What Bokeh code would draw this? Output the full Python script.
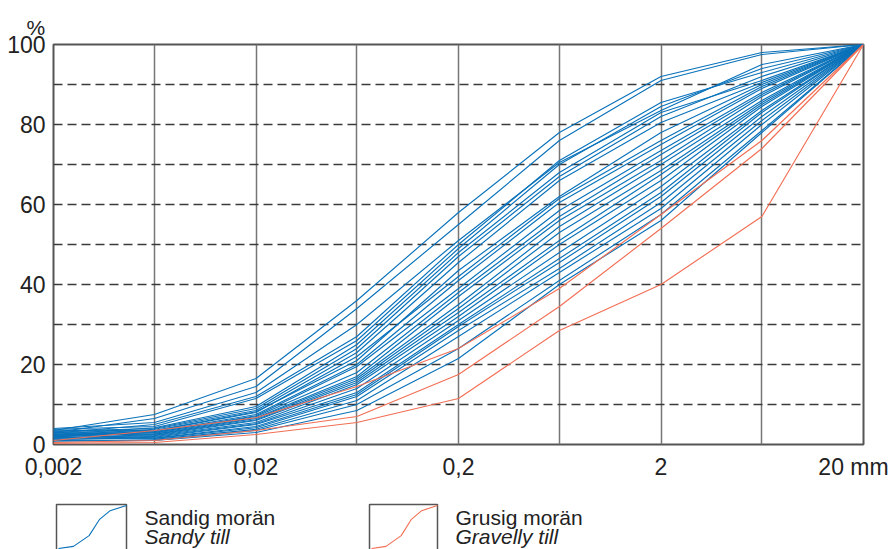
import math
from bokeh.plotting import figure
from bokeh.models import Range1d, FixedTicker, Title, CustomJSTickFormatter
from bokeh.embed import file_html
from bokeh.resources import INLINE
from bokeh.core.properties import value

# ---------------- data ----------------
sieve_mm = [0.002, 0.0063, 0.02, 0.063, 0.2, 0.63, 2, 6.3, 20]
x_tick_values = [0.002, 0.02, 0.2, 2, 20]
x_tick_labels = ["0,002", "0,02", "0,2", "2", "20 mm"]
y_tick_values = [0, 20, 40, 60, 80, 100]
y_dash_values = [10, 20, 30, 40, 50, 60, 70, 80, 90]
y_unit = "%"

sandy_till = [
    [3.5, 7.5, 16.5, 36, 58, 78, 92, 98, 100],
    [3.0, 6.5, 14.5, 34, 55, 76, 91, 97.5, 100],
    [4.0, 5.5, 13.0, 30, 51, 70.5, 83.5, 95, 100],
    [2.8, 5.0, 12.0, 27, 50, 71, 85.5, 93, 100],
    [3.8, 4.5, 11.5, 26, 49, 70, 84.5, 94, 100],
    [2.5, 4.2, 9.5, 25, 48, 68, 83, 91, 100],
    [3.3, 4.0, 9.0, 24, 47, 67, 82, 92, 100],
    [2.2, 3.8, 8.5, 23, 45.5, 66, 80.5, 90.5, 100],
    [3.6, 3.5, 8.2, 21, 43.5, 62, 78, 90, 100],
    [2.0, 3.4, 8.0, 22, 42, 61.5, 76, 89.5, 100],
    [3.2, 3.2, 7.5, 20, 41, 60.5, 75, 89, 100],
    [2.6, 3.0, 7.2, 19.5, 39, 58.5, 73.5, 88, 100],
    [1.9, 3.0, 7.0, 18, 38, 57, 72.5, 87.5, 100],
    [3.0, 2.8, 6.7, 17, 37, 56, 71, 87, 100],
    [2.4, 2.6, 6.5, 16.5, 35, 54.5, 70, 86, 100],
    [1.5, 2.5, 6.2, 16, 34, 53, 68.5, 85.5, 100],
    [2.7, 2.3, 6.0, 15.5, 33, 51, 67.5, 85, 100],
    [1.7, 2.2, 5.5, 15, 32, 50, 66, 84.5, 100],
    [2.3, 2.0, 5.2, 14, 31, 48, 64.5, 83.5, 100],
    [1.2, 1.8, 5.0, 13, 30, 46.5, 63, 83, 100],
    [2.0, 1.6, 4.5, 12.5, 29.5, 45.5, 62, 82, 100],
    [1.4, 1.5, 4.2, 12, 28.5, 44, 60.5, 81, 100],
    [1.8, 1.3, 3.8, 11, 27, 43, 59, 80, 100],
    [1.0, 1.1, 3.5, 10, 24, 41, 57.5, 78.5, 100],
    [0.8, 1.0, 3.0, 8.5, 21.5, 40, 56, 78, 100],
]
gravelly_till = [
    [0.3, 0.5, 2.5, 5.5, 11.5, 28.5, 40, 57, 100],
    [0.5, 1.0, 3.5, 7.0, 17.5, 34.5, 54, 74, 100],
    [1.0, 3.5, 6.7, 14.5, 24, 39, 57.5, 76, 100],
]

legend_names = [("Sandig morän", "Sandy till"), ("Grusig morän", "Gravelly till")]
# schematic icon curve (fractions of the icon box)
legend_icon_x = [0.0, 0.22, 0.45, 0.60, 0.76, 1.0]
legend_icon_y = [0.0, 0.05, 0.30, 0.67, 0.88, 1.0]

# ---------------- style / layout ----------------
BLUE = "#0a72ba"
RED = "#f26f55"
FONT = "Liberation Sans"
TXT = "#222222"
W, H = 891, 549
BL, BT, FW, FH, BB = 53, 44, 810, 400, 46
BR = W - BL - FW
MAIN_H = BT + FH + BB
STRIP_H = H - MAIN_H

p = figure(width=W, height=MAIN_H, x_axis_type="log",
           x_range=Range1d(sieve_mm[0], sieve_mm[-1]), y_range=Range1d(0, 100),
           output_backend="svg", toolbar_location=None,
           min_border_left=BL, min_border_right=BR,
           min_border_top=BT, min_border_bottom=BB)

p.title = Title(text=y_unit, align="left", offset=-27, text_font=FONT,
                text_font_size="21px", text_font_style="normal", text_color=TXT,
                standoff=12)
p.outline_line_color = "#555555"
p.outline_line_width = 2

p.xgrid.ticker = FixedTicker(ticks=sieve_mm[1:-1])
p.xgrid.grid_line_color = "#767676"
p.xgrid.grid_line_width = 1.5
p.ygrid.ticker = FixedTicker(ticks=y_dash_values)
p.ygrid.grid_line_color = "#3a3a3a"
p.ygrid.grid_line_width = 1.4
p.ygrid.grid_line_dash = "9 5"

for ax in (p.xaxis[0], p.yaxis[0]):
    ax.axis_line_color = None
    ax.major_tick_line_color = None
    ax.minor_tick_line_color = None
    ax.major_tick_out = 0
    ax.major_tick_in = 0
    ax.minor_tick_out = 0
    ax.major_label_text_font = FONT
    ax.major_label_text_font_size = "23px"
    ax.major_label_text_color = TXT

p.yaxis.ticker = FixedTicker(ticks=y_tick_values)
p.yaxis.major_label_standoff = 8

# the unit label "20 mm" is set so that it ends at the right edge of the page
ppd = FW / math.log10(sieve_mm[-1] / sieve_mm[0])
label_anchor = list(x_tick_values)
label_anchor[-1] = x_tick_values[-1] * 10 ** (-10 / ppd)
p.xaxis.ticker = FixedTicker(ticks=label_anchor)
p.xaxis.formatter = CustomJSTickFormatter(args=dict(labels=x_tick_labels),
                                          code="return labels[index];")
p.xaxis.major_label_standoff = 9

for curve in sandy_till:
    p.line(sieve_mm, curve, line_color=BLUE, line_width=1.15)
for curve in gravelly_till:
    p.line(sieve_mm, curve, line_color=RED, line_width=1.15)

# ---------------- bottom strip: legend ----------------
lg = figure(width=W, height=STRIP_H, x_range=Range1d(0, W),
            y_range=Range1d(0, STRIP_H), output_backend="svg", toolbar_location=None,
            x_axis_location=None, y_axis_location=None,
            min_border_left=0, min_border_right=0, min_border_top=0, min_border_bottom=0)
lg.outline_line_color = None
lg.grid.visible = False

boxes = [(56, 126, BLUE), (369, 437, RED)]
box_top = STRIP_H - 14
for (l, r, col), (sv, en) in zip(boxes, legend_names):
    lg.multi_line(xs=[[l, l, r, r]], ys=[[-10, box_top, box_top, -10]],
                  line_color="#555555", line_width=1.5)
    w = r - l
    lg.line([l + 2 + f * (w - 2) for f in legend_icon_x],
            [1 + g * (box_top - 2) for g in legend_icon_y],
            line_color=col, line_width=1.1)
    lg.text(x=[r + 18], y=[box_top - 13], text=[sv], text_font=value(FONT),
            text_font_size="21px", text_color=TXT, text_baseline="middle")
    lg.text(x=[r + 18], y=[box_top - 32], text=[en], text_font=value(FONT),
            text_font_size="21px", text_color=TXT, text_baseline="middle",
            text_font_style="italic")

open("out.html", "w").write(file_html([p, lg], INLINE))
